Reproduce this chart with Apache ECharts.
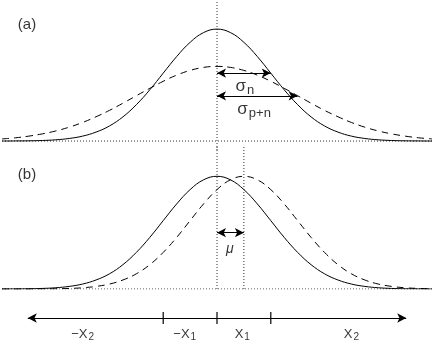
<!DOCTYPE html>
<html>
<head>
<meta charset="utf-8">
<script src="https://cdn.jsdelivr.net/npm/echarts@6/dist/echarts.min.js"></script>
<style>
  html, body { margin: 0; padding: 0; background: #fff; }
  #chart { width: 434px; height: 347px; }
</style>
</head>
<body>
<div id="chart"></div>
<script>
// sample positions (in units of sigma_n)
const xs = [-4, -3.75, -3.5, -3.25, -3, -2.75, -2.5, -2.25, -2, -1.75, -1.5, -1.25, -1, -0.75, -0.5, -0.25,
  0, 0.25, 0.5, 0.75, 1, 1.25, 1.5, 1.75, 2, 2.25, 2.5, 2.75, 3, 3.25, 3.5, 3.75, 4];

// panel (a)
const solidA = [0, 0.001, 0.002, 0.005, 0.011, 0.023, 0.044, 0.080, 0.135, 0.216, 0.325, 0.458, 0.607, 0.755, 0.882, 0.969,
  1.0, 0.969, 0.882, 0.755, 0.607, 0.458, 0.325, 0.216, 0.135, 0.080, 0.044, 0.023, 0.011, 0.005, 0.002, 0.001, 0];
const dashedA = [0.019, 0.029, 0.044, 0.064, 0.090, 0.124, 0.166, 0.217, 0.274, 0.338, 0.405, 0.471, 0.534, 0.589, 0.631, 0.658,
  0.667, 0.658, 0.631, 0.589, 0.534, 0.471, 0.405, 0.338, 0.274, 0.217, 0.166, 0.124, 0.090, 0.064, 0.044, 0.029, 0.019];

// panel (b)
const solidB = [0, 0.001, 0.002, 0.005, 0.011, 0.023, 0.044, 0.080, 0.135, 0.216, 0.325, 0.458, 0.607, 0.755, 0.882, 0.969,
  1.0, 0.969, 0.882, 0.755, 0.607, 0.458, 0.325, 0.216, 0.135, 0.080, 0.044, 0.023, 0.011, 0.005, 0.002, 0.001, 0];
const dashedB = [0, 0, 0, 0.001, 0.002, 0.005, 0.011, 0.023, 0.044, 0.080, 0.135, 0.216, 0.325, 0.458, 0.607, 0.755,
  0.882, 0.969, 1.0, 0.969, 0.882, 0.755, 0.607, 0.458, 0.325, 0.216, 0.135, 0.080, 0.044, 0.023, 0.011, 0.005, 0.002];

// arrows: [y, xEnd]
const sigmaArrows = [[0.607, 1], [0.404, 1.5]];
const muArrow = [0.5, 0.5];
const muLines = [0, 0.5];

// bottom scale
const axisEnds = [-3.52, 3.52];
const axisTicks = [-1, 0, 1];
const tickLabelX = [-2.5, -0.6, 0.47, 2.5];
const tickLabelMain = ['−X', '−X', 'X', 'X'];
const tickLabelSub = ['2', '1', '1', '2'];

const F = '"Liberation Sans", "DejaVu Sans", sans-serif';
const black = '#000';

function pairs(ys) { return xs.map((x, i) => [x, ys[i]]); }

function curve(idx, ys, dashed) {
  return {
    type: 'line', xAxisIndex: idx, yAxisIndex: idx, data: pairs(ys),
    showSymbol: false, smooth: 0.4, silent: true,
    lineStyle: { color: black, width: 1, type: dashed ? [7, 5] : 'solid' }
  };
}

function dotted(idx, data) {
  return {
    type: 'line', xAxisIndex: idx, yAxisIndex: idx, data: data,
    showSymbol: false, silent: true,
    lineStyle: { color: '#333', width: 1, type: [1, 2] }
  };
}

function arrows(idx, segs) {
  return {
    type: 'line', xAxisIndex: idx, yAxisIndex: idx, data: [],
    markLine: {
      silent: true, symbol: ['arrow', 'arrow'], symbolSize: [7, 9],
      label: { show: false },
      lineStyle: { color: black, width: 1, type: 'solid' },
      data: segs.map(s => [{ coord: s[0] }, { coord: s[1] }])
    }
  };
}

const rich = {
  t: { fontFamily: F, fontSize: 15, color: black },
  g: { fontFamily: F, fontSize: 17, color: black },
  s: { fontFamily: F, fontSize: 13, color: black, padding: [9, 0, 0, 1] },
  m: { fontFamily: F, fontSize: 14, color: black, fontStyle: 'italic' },
  x: { fontFamily: F, fontSize: 13, color: black },
  xs: { fontFamily: F, fontSize: 10, color: black, padding: [7, 0, 0, 1] }
};

function texts(idx, items) {
  return {
    type: 'scatter', xAxisIndex: idx, yAxisIndex: idx, symbolSize: 0, silent: true,
    data: items.map(it => ({ value: [it[0], it[1]], label: { formatter: it[2] } })),
    label: { show: true, position: 'inside', rich: rich }
  };
}

const hiddenX = (i) => ({ type: 'value', gridIndex: i, min: -4, max: 4, show: false });

const option = {
  animation: false,
  backgroundColor: '#fff',
  grid: [
    { left: 2, width: 430, top: 0, height: 150 },
    { left: 2, width: 430, top: 147, height: 142 },
    { left: 2, width: 430, top: 300, height: 36 }
  ],
  xAxis: [hiddenX(0), hiddenX(1), hiddenX(2)],
  yAxis: [
    { type: 'value', gridIndex: 0, min: -0.08, max: 1.26, show: false },
    { type: 'value', gridIndex: 1, min: 0, max: 1.26, show: false },
    { type: 'value', gridIndex: 2, min: -1, max: 1, show: false }
  ],
  series: [
    // panel (a)
    dotted(0, [[-4, 0], [4, 0]]),
    dotted(0, [[0, -0.08], [0, 1.26]]),
    curve(0, dashedA, true),
    curve(0, solidA, false),
    arrows(0, sigmaArrows.map(a => [[0, a[0]], [a[1], a[0]]])),
    texts(0, [
      [-3.535, 1.04, '{t|(a)}'],
      [0.52, 0.49, '{g|σ}{s|n}'],
      [0.69, 0.285, '{g|σ}{s|p+n}']
    ]),
    // panel (b)
    dotted(1, [[-4, 0], [4, 0]]),
    dotted(1, [[muLines[0], 0], [muLines[0], 1.26]]),
    dotted(1, [[muLines[1], 0], [muLines[1], 1.26]]),
    curve(1, dashedB, true),
    curve(1, solidB, false),
    arrows(1, [[[0, muArrow[0]], [muArrow[1], muArrow[0]]]]),
    texts(1, [
      [-3.535, 1.01, '{t|(b)}'],
      [0.24, 0.355, '{m|μ}']
    ]),
    // bottom scale
    arrows(2, [[[axisEnds[0], 0], [axisEnds[1], 0]]]),
    {
      type: 'scatter', xAxisIndex: 2, yAxisIndex: 2, silent: true,
      symbol: 'rect', symbolSize: [1.5, 12], itemStyle: { color: black },
      data: axisTicks.map(t => [t, 0])
    },
    texts(2, tickLabelX.map((x, i) => [x, -0.89, '{x|' + tickLabelMain[i] + '}{xs|' + tickLabelSub[i] + '}']))
  ]
};

const chart = echarts.init(document.getElementById('chart'));
chart.setOption(option);
</script>
</body>
</html>
